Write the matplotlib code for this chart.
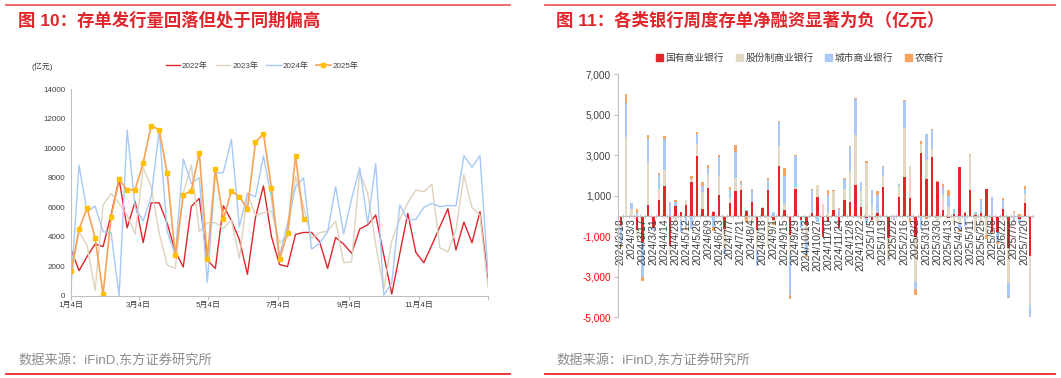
import numpy as np
import matplotlib
matplotlib.use('Agg')
from matplotlib import pyplot as plt
from matplotlib.lines import Line2D
from matplotlib.patches import Patch
from matplotlib.ticker import FuncFormatter

plt.rcParams['font.family'] = ['Liberation Sans', 'Noto Sans CJK SC']
plt.rcParams['axes.unicode_minus'] = False

# ---------- 左图：存单发行量（亿元），按周 ----------
v2022 = [3150, 1700, 2650, 3500, 3330, 5500, 7900, 4600, 6400, 3600,
         6300, 6300, 4900, 3000, 1950, 6050, 6600, 2400, 1850, 6100,
         5100, 3800, 1450, 5300, 7450, 4000, 2120, 1970, 4160, 4290,
         4290, 3660, 1850, 3950, 3500, 2870, 4520, 4810, 5470, 2760,
         110, 2870, 5580, 2940, 2240, 3440, 4680, 5900, 3100, 4990,
         3590, 5700, 1110]
v2023 = [1200, 4340, 3430, 340, 6150, 6940, 6260, 5470, 4180, 8700,
         7390, 4230, 2080, 1850, 6940, 8860, 4340, 4950, 4950, 4560,
         5130, 2530, 6940, 5470, 5630, 5740, 3590, 4000, 8070, 6000,
         3890, 4270, 4380, 5060, 2240, 2300, 8400, 6940, 3440, 430,
         3730, 5180, 6300, 7160, 7050, 7550, 3250, 2980, 4450, 8180,
         5970, 5470, 610]
v2024 = [600, 8860, 5700, 6080, 4340, 4270, 0, 11230, 6000, 5060,
         6710, 11230, 4340, 2760, 9270, 7620, 8000, 900, 8300, 8360,
         10600, 4680, 6940, 6710, 9490, 6600, 2690, 4900, 7390, 8000,
         3160, 3550, 4340, 7390, 4180, 6600, 8680, 4900, 8970, 50,
         840, 6150, 5130, 5180, 5990, 6260, 6030, 6120, 6080, 9510,
         8700, 9510, 1500]
v2025 = [1650, 4500, 5950, 3930, 100, 5350, 7890, 7160, 7200, 9020,
         11530, 11250, 8290, 2730, 6830, 7120, 9700, 2490, 8570, 5180,
         7120, 6710, 5880, 10400, 11000, 7290, 2470, 4275, 9480, 5180]
month_labels = ['1月4日', '3月4日', '5月4日', '7月4日', '9月4日', '11月4日', '']
month_days = [0, 59, 120, 181, 243, 304, 364]

# ---------- 右图：各类银行周度存单净融资（亿元） ----------
dates = ['2024/2/18', '2024/3/3', '2024/3/17', '2024/3/31', '2024/4/14', '2024/4/28',
         '2024/5/12', '2024/5/26', '2024/6/9', '2024/6/23', '2024/7/7', '2024/7/21',
         '2024/8/4', '2024/8/18', '2024/9/1', '2024/9/15', '2024/9/29', '2024/10/13',
         '2024/10/27', '2024/11/10', '2024/11/24', '2024/12/8', '2024/12/22', '2025/1/5',
         '2025/1/19', '2025/2/2', '2025/2/16', '2025/3/2', '2025/3/16', '2025/3/30',
         '2025/4/13', '2025/4/27', '2025/5/11', '2025/5/25', '2025/6/8', '2025/6/22',
         '2025/7/6', '2025/7/20']
state = [-450, -60, 0, -700, -1300, 550, -600, 800, 1460, -1500,
         480, 180, 540, 1700, 2970, 350, 1380, 200, 1030, -650,
         650, 1250, 1290, 250, 690, -700, 400, 1310, -200, 2480,
         290, -950, 1360, -200, -450, 130, 950, -1030, -300, 290,
         -590, 790, 700, 1520, 470, -80, -200, 130, 1410, -1100,
         0, 950, 1910, 900, -1030, 3120, 1820, 2920, 1690, 320,
         -120, 90, 2430, 160, 1280, 70, 140, 1360, -800, -800,
         370, -1600, 0, -160, 620, -1970]
joint = [-100, 3900, 350, -400, 0, 2140, 0, 520, 820, -400,
         -300, -200, 260, 150, 610, 860, 650, 50, 940, -1000,
         220, 640, 250, 0, -370, -1000, 50, -1500, -100, 970,
         290, -950, 80, 0, -800, 0, 570, 580, 150, 940,
         0, 570, 1530, 2470, 770, 2640, 500, -330, 560, -1070,
         50, 540, 2440, 1560, -2250, 460, 940, 400, -200, 710,
         450, -450, -350, 0, 1730, -800, -500, -950, 0, 0,
         -200, -1730, 200, 0, 490, -2430]
city = [-850, 1690, 270, 150, -1700, 1110, -100, 730, 1520, 700,
        200, -600, -550, -650, 490, 250, 320, -550, 930, -200,
        420, 1280, 100, 50, 590, -750, 0, 450, 180, 1200,
        1400, -2000, 1510, -400, -650, 1150, -300, 0, 880, 0,
        330, 450, 1170, 1780, 460, -250, 800, 900, 460, -50,
        -200, 80, 1320, -100, -330, -620, 1280, 920, 0, 410,
        530, 280, -350, -500, 0, 130, 640, 0, 950, -500,
        410, -660, -300, -200, 250, -660]
rural = [-150, 460, 0, 200, -200, 200, 0, 60, 150, 0,
         90, 0, -120, 130, 70, 240, 150, -200, 130, 0,
         150, 330, 70, -300, 50, 0, 0, 100, -150, 40,
         370, -220, 50, 0, -100, 80, 0, 0, 250, 60,
         60, 80, 50, 80, -130, 60, 0, 210, 20, 0,
         0, 0, 50, -250, -290, 120, -150, 80, 50, 120,
         330, 0, -100, 40, 50, 0, 80, -200, -100, -100,
         120, -80, 30, 80, 120, 0]
bank_names = ['国有商业银行', '股份制商业银行', '城市商业银行', '农商行']
bank_colors = ['#E3262A', '#E2D8C4', '#A9CAF6', '#F9A35E']

W, H = 1061, 378
fig = plt.figure(figsize=(W / 100, H / 100), dpi=100)
title_red = '#E0262B'
axis_gray = '#BFBFBF'

# 标题和分隔线
for x0, x1 in [(6, 510), (545, 1055)]:
    fig.add_artist(Line2D([x0 / W, x1 / W], [1 - 5 / H, 1 - 5 / H], color='#EC5E60', lw=1.3))
    fig.add_artist(Line2D([x0 / W, x1 / W], [1 - 374 / H, 1 - 374 / H], color='#E8262A', lw=1.3))
fig.text(18 / W, 1 - 20 / H, '图 10：存单发行量回落但处于同期偏高', color=title_red,
         fontsize=12.5, fontweight='bold', va='center', ha='left')
fig.text(556 / W, 1 - 20 / H, '图 11：各类银行周度存单净融资显著为负（亿元）', color=title_red,
         fontsize=12.5, fontweight='bold', va='center', ha='left')
fig.text(18 / W, 1 - 361 / H, '数据来源：iFinD,东方证券研究所', color='#8C8C8C',
         fontsize=9.5, va='center', ha='left')
fig.text(556 / W, 1 - 361 / H, '数据来源：iFinD,东方证券研究所', color='#8C8C8C',
         fontsize=9.5, va='center', ha='left')

# ---------- 左图 ----------
ax1 = fig.add_axes([71 / W, 1 - 295.7 / H, 417 / W, 206.4 / H])
xw = np.arange(len(v2022))
x25 = np.arange(len(v2025))
l22, = ax1.plot(xw, v2022, color='#E0262B', lw=1.0, label='2022年')
l23, = ax1.plot(xw, v2023, color='#DDD3BF', lw=1.0, label='2023年')
l24, = ax1.plot(xw, v2024, color='#A8C9F7', lw=1.0, label='2024年')
l25, = ax1.plot(x25, v2025, color='#F6A35A', lw=1.2, marker='s', ms=3.2,
                mfc='#FFC000', mec='#FFC000', label='2025年')
ax1.set_xlim(0, 52)
ax1.set_ylim(0, 14000)
ax1.set_yticks(np.arange(0, 14001, 2000))
ax1.set_xticks([d / 7 for d in month_days])
ax1.set_xticklabels(month_labels)
ax1.tick_params(axis='y', length=0, labelsize=5.8, pad=4, labelcolor='#404040')
ax1.tick_params(axis='x', length=3, color=axis_gray, labelsize=5.8, pad=1.5, labelcolor='#404040')
for s in ['top', 'right']:
    ax1.spines[s].set_visible(False)
for s in ['left', 'bottom']:
    ax1.spines[s].set_color(axis_gray)
    ax1.spines[s].set_linewidth(0.8)
fig.text(31 / W, 1 - 67 / H, '(亿元)', fontsize=5.8, color='#404040', va='center', ha='left')
fig.legend(handles=[l22, l23, l24, l25], loc='center', bbox_to_anchor=(262 / W, 1 - 66 / H),
           ncol=4, frameon=False, fontsize=5.8, handlelength=1.8, columnspacing=1.0,
           handletextpad=0.2, labelcolor='#404040')

# ---------- 右图 ----------
ax2 = fig.add_axes([618 / W, 1 - 317.3 / H, 415 / W, 243 / H])
xb = np.arange(len(state))
pos_base = np.zeros(len(state))
neg_base = np.zeros(len(state))
for vals, col, name in zip([state, joint, city, rural], bank_colors, bank_names):
    v = np.array(vals, dtype=float)
    base = np.where(v >= 0, pos_base, neg_base)
    ax2.bar(xb, v, bottom=base, width=0.45, color=col, label=name, linewidth=0)
    pos_base = pos_base + np.where(v > 0, v, 0)
    neg_base = neg_base + np.where(v < 0, v, 0)
ax2.set_xlim(-0.5, len(state) - 0.5)
ax2.set_ylim(-5000, 7000)
ax2.set_yticks(np.arange(-5000, 7001, 2000))
ax2.yaxis.set_major_formatter(FuncFormatter(lambda v, p: f'{int(v):,}'))
ax2.tick_params(axis='y', length=3, color=axis_gray, labelsize=7.2, pad=2)
for lab, val in zip(ax2.get_yticklabels(), np.arange(-5000, 7001, 2000)):
    lab.set_color('#FF0000' if val < 0 else '#404040')
ax2.spines['bottom'].set_position(('data', 0))
for s in ['top', 'right']:
    ax2.spines[s].set_visible(False)
for s in ['left', 'bottom']:
    ax2.spines[s].set_color(axis_gray)
    ax2.spines[s].set_linewidth(0.8)
ax2.set_xticks(np.arange(0, 2 * len(dates), 2))
ax2.set_xticklabels(dates, rotation=90, fontsize=7.6, color='#404040')
ax2.tick_params(axis='x', length=0, pad=1.5)
ax2.set_xticks(np.arange(-0.5, len(state), 1), minor=True)
ax2.tick_params(axis='x', which='minor', length=2.5, direction='inout', color=axis_gray)
fig.legend(handles=[Patch(color=c) for c in bank_colors], labels=bank_names, loc='center',
           bbox_to_anchor=(800 / W, 1 - 58 / H), ncol=4, frameon=False, fontsize=7,
           handlelength=0.7, handleheight=0.7, handletextpad=0.3, columnspacing=1.2,
           labelcolor='#404040')

fig.savefig('out.png', dpi=100)
